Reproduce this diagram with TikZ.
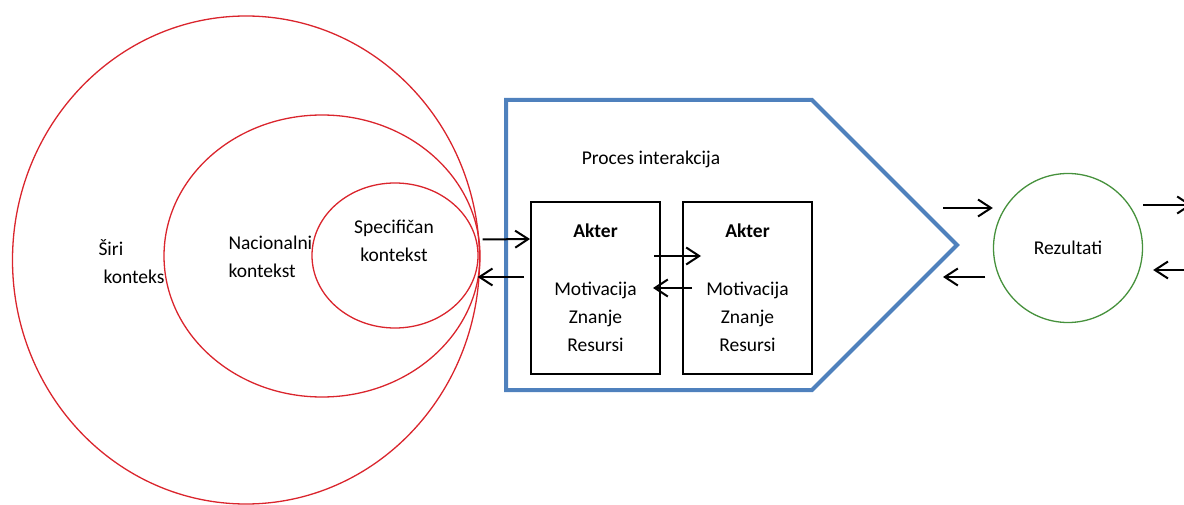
\documentclass[tikz,border=0pt]{standalone}
\usepackage{fontspec}
\setmainfont{Carlito}
\usetikzlibrary{shapes.geometric,arrows.meta}
\definecolor{kontekstrot}{RGB}{218,37,45}
\definecolor{prozessblau}{RGB}{79,129,189}
\definecolor{ergebnisgruen}{RGB}{70,145,60}
\begin{document}
\begin{tikzpicture}[x=1pt, y=-1pt, font=\fontsize{19.5}{28}\selectfont,
		kontext/.style={ellipse, draw=kontekstrot, line width=1.3pt, inner sep=0pt},
		akterbox/.style={draw, line width=2pt, minimum width=129pt, minimum height=171pt, align=center},
		pil/.style={line width=2pt, -{Straight Barb[length=13pt, width=17pt, line width=2pt]}}]
		\useasboundingbox (0,0) rectangle (1184,505);
		%Kontexte
		\node (siri) [kontext, minimum width=467pt, minimum height=488pt] at (246,260) {};
		\node (nac) [kontext, minimum width=316pt, minimum height=282pt] at (322,256) {};
		\node (spec) [kontext, minimum width=166pt, minimum height=145pt] at (395,255.5) {};
		\node (siritext) [anchor=west, align=left] at (95,262) {Širi\\\hspace{5pt}konteks};
		\node (nactext) [anchor=west, align=left] at (225,257) {Nacionalni\\kontekst};
		\node (spectext) [align=center] at (394,241) {Specifičan\\kontekst};
		%Prozess
		\draw [prozessblau, line width=4pt, line join=miter] (506,100) -- (812,100) -- (957,245) coordinate (tip) -- (812,390) -- (506,390) -- cycle;
		\node (proces) at (651,159) {Proces interakcija};
		\node (akter1) [akterbox] at (595.5,288) {\textbf{Akter}\\[30pt]Motivacija\\Znanje\\Resursi};
		\node (akter2) [akterbox] at (747.5,288) {\textbf{Akter}\\[30pt]Motivacija\\Znanje\\Resursi};
		\draw [pil] ([shift={(4,-16)}]spec.east) -- ([shift={(0,-49)}]akter1.west);
		\draw [pil] ([shift={(-6,-11)}]akter1.west) -- ([shift={(-1,21.5)}]spec.east);
		\draw [pil] ([shift={(-7,-32)}]akter1.east) -- ([shift={(19,-32)}]akter2.west);
		\draw [pil] ([shift={(10,0)}]akter2.west) -- ([shift={(-8,0)}]akter1.east);
		%Ergebnis
		\node (rez) [circle, draw=ergebnisgruen, line width=1.3pt, minimum size=149pt] at (1068,248) {Rezultati};
		\draw [pil] ([shift={(-14,-37)}]tip) -- ([shift={(0,-40)}]rez.west);
		\draw [pil] ([shift={(-7.5,29)}]rez.west) -- ([shift={(-14,32)}]tip);
		\coordinate (weiter) at (1192,205);
		\coordinate (zurueck) at (1200,270);
		\draw [pil] (rez.east |- weiter) -- (weiter);
		\draw [pil] (zurueck) -- ([xshift=10pt]rez.east |- zurueck);
	\end{tikzpicture}
\end{document}
